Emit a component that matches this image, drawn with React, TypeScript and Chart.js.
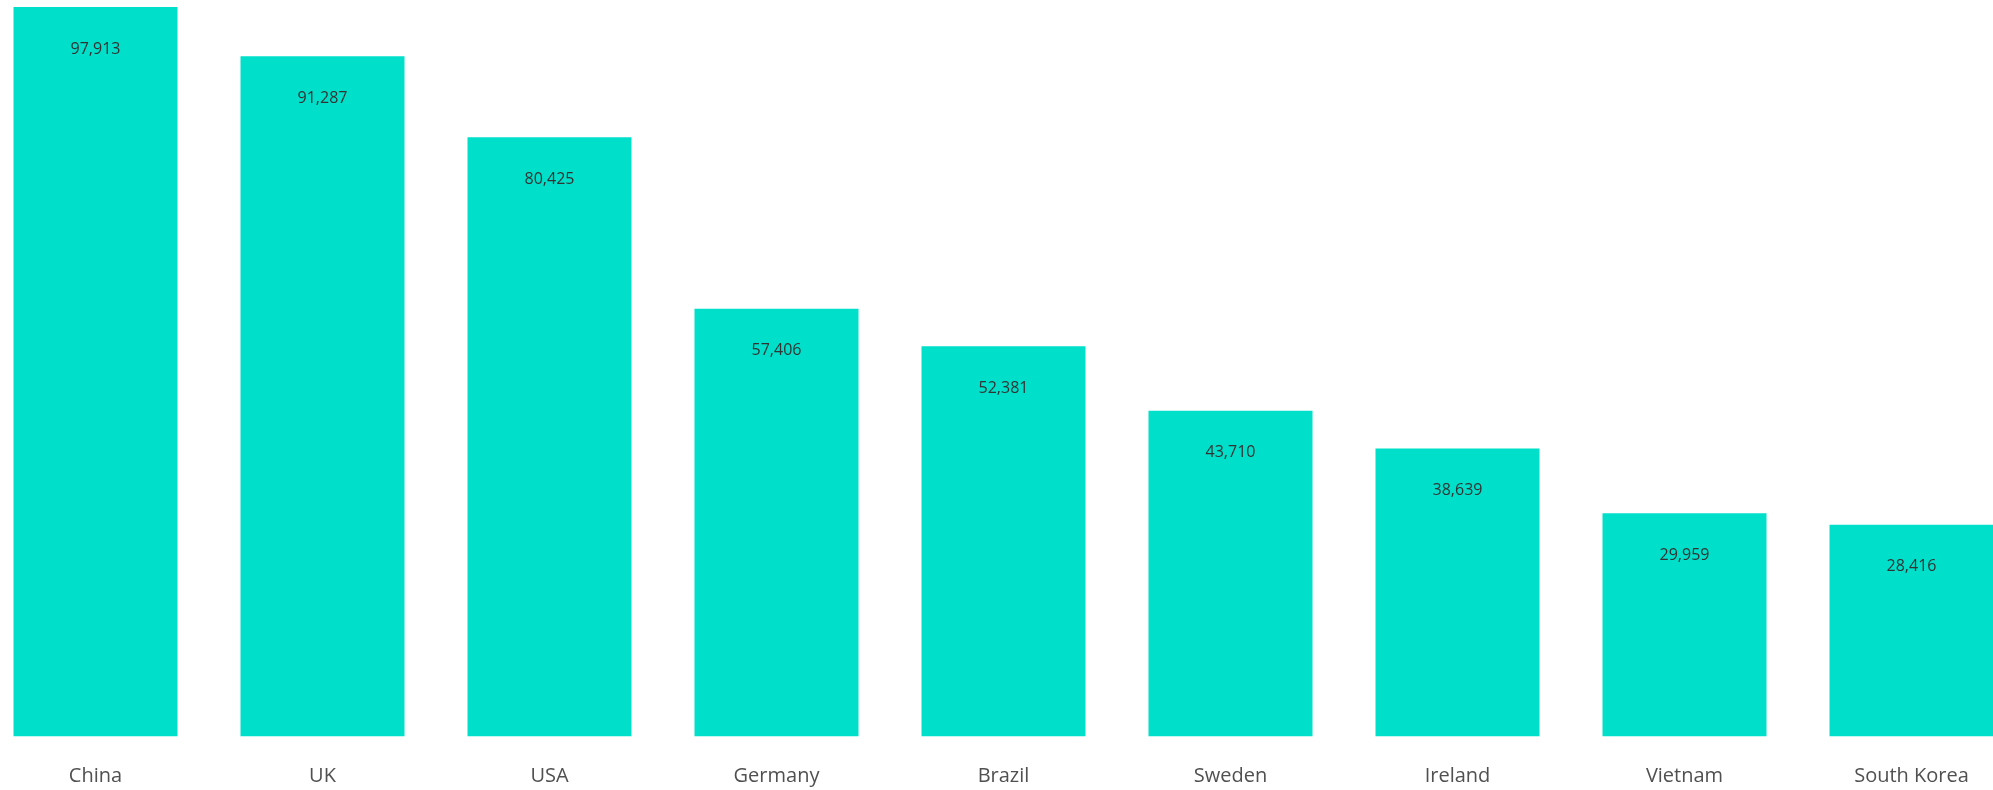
import React, { useEffect, useRef } from "react";
import { Chart, registerables } from "chart.js";

Chart.register(...registerables);

const categories = ["China", "UK", "USA", "Germany", "Brazil", "Sweden", "Ireland", "Vietnam", "South Korea"];
const values = [97913, 91287, 80425, 57406, 52381, 43710, 38639, 29959, 28416];

const FONT = "'Open Sans', 'Noto Sans', sans-serif";

const valueLabelPlugin = {
  id: "valueLabels",
  afterDatasetsDraw(chart: any) {
    const ctx = chart.ctx;
    const meta = chart.getDatasetMeta(0);
    ctx.save();
    ctx.font = `16px ${FONT}`;
    ctx.fillStyle = "#333333";
    ctx.textAlign = "center";
    ctx.textBaseline = "middle";
    meta.data.forEach((bar: any, i: number) => {
      const v = chart.data.datasets[0].data[i] as number;
      ctx.fillText(v.toLocaleString("en-US"), bar.x, bar.y + 42);
    });
    ctx.restore();
  },
};

export default function App() {
  const canvasRef = useRef<HTMLCanvasElement | null>(null);

  useEffect(() => {
    if (!canvasRef.current) return;
    const chart = new Chart(canvasRef.current, {
      type: "bar",
      data: {
        labels: categories,
        datasets: [
          {
            data: values,
            backgroundColor: "#00dfc9",
            borderWidth: 0,
            categoryPercentage: 1,
            barPercentage: 0.7225,
          },
        ],
      },
      options: {
        animation: false,
        responsive: false,
        maintainAspectRatio: false,
        layout: { padding: { top: 7, bottom: 0, left: 0, right: 0 } },
        plugins: {
          legend: { display: false },
          tooltip: { enabled: false },
        },
        scales: {
          x: {
            grid: { display: false, drawTicks: false },
            border: { display: false },
            ticks: {
              color: "#505050",
              font: { family: FONT, size: 20 },
              padding: 28,
              maxRotation: 0,
              minRotation: 0,
              autoSkip: false,
            },
            afterFit: (scale: any) => {
              scale.height = 53.5;
            },
          },
          y: {
            display: false,
            min: 0,
            max: Math.max(...values),
          },
        },
      },
      plugins: [valueLabelPlugin],
    });
    return () => chart.destroy();
  }, []);

  return (
    <div
      style={{
        position: "absolute",
        left: 0,
        top: 0,
        width: 1993,
        height: 790,
        overflow: "hidden",
        background: "#ffffff",
      }}
    >
      <div style={{ position: "absolute", left: -18.5, top: 0, width: 2043, height: 790 }}>
        <canvas ref={canvasRef} width={2043} height={790} style={{ display: "block" }} />
      </div>
    </div>
  );
}
